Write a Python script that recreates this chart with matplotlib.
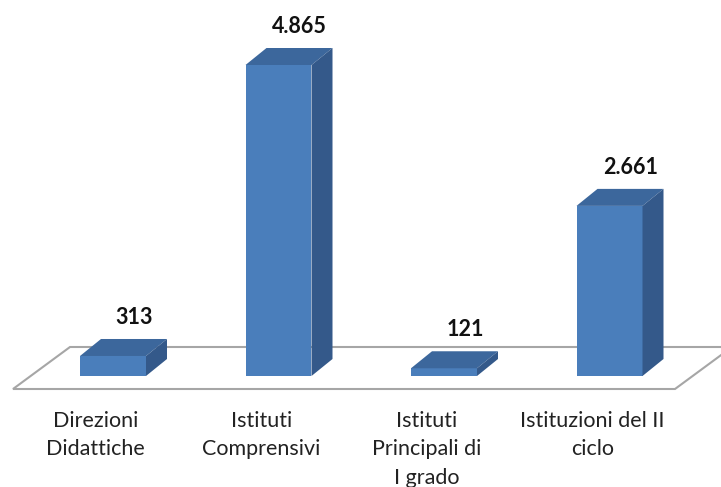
import matplotlib
matplotlib.use("Agg")
import matplotlib.pyplot as plt
from matplotlib.patches import Polygon

categories = ["Direzioni\nDidattiche", "Istituti\nComprensivi", "Istituti\nPrincipali di\nI grado", "Istituzioni del II\nciclo"]
values = [313, 4865, 121, 2661]
value_labels = ["313", "4.865", "121", "2.661"]

W, H = 721, 487
fig = plt.figure(figsize=(W / 100, H / 100), dpi=100)
ax = fig.add_axes([0, 0, 1, 1])
ax.set_axis_off()

px_per_cat = 165.5
px_per_val = 311 / 4865
x0_px, y0_px = 113, 376
ax.set_xlim(-x0_px / px_per_cat, (W - x0_px) / px_per_cat)
ax.set_ylim(-(H - y0_px) / px_per_val, y0_px / px_per_val)

# depth offsets in data units
bdx, bdy = 21 / px_per_cat, 17 / px_per_val
fdx, fdy = 57 / px_per_cat, 42 / px_per_val
floor_front_y = -13 / px_per_val
floor_left = -100 / px_per_cat
floor_right = 562 / px_per_cat

# floor
floor = Polygon([(floor_left, floor_front_y), (floor_right, floor_front_y),
                 (floor_right + fdx, floor_front_y + fdy), (floor_left + fdx, floor_front_y + fdy)],
                closed=True, facecolor="white", edgecolor="#A6A6A6", lw=1.5, zorder=1, clip_on=False)
ax.add_patch(floor)

front_c, top_c, side_c = "#4A7EBB", "#3C679C", "#34598A"
bw = 66 / px_per_cat
for i, v in enumerate(values):
    l, r = i - bw / 2, i + bw / 2
    ax.add_patch(Polygon([(l, 0), (r, 0), (r, v), (l, v)], facecolor=front_c, edgecolor="none", zorder=3))
    ax.add_patch(Polygon([(l, v), (r, v), (r + bdx, v + bdy), (l + bdx, v + bdy)], facecolor=top_c, edgecolor="none", zorder=3))
    ax.add_patch(Polygon([(r, 0), (r + bdx, bdy), (r + bdx, v + bdy), (r, v)], facecolor=side_c, edgecolor="none", zorder=3))
    ax.annotate(value_labels[i], (i + bdx, v + bdy), xytext=(0, 15.5), textcoords="offset points",
                ha="center", va="center", fontsize=15.5, fontweight="bold", family="Lato", color="#111111")

# category labels centered on floor front segments
for i, c in enumerate(categories):
    xc = floor_left + (i + 0.5) * (floor_right - floor_left) / len(categories)
    ax.text(xc, floor_front_y - 22 / px_per_val, c, ha="center", va="top", fontsize=15.5,
            family="Lato", color="#222222", linespacing=1.52)

fig.savefig("out.png", dpi=100)
